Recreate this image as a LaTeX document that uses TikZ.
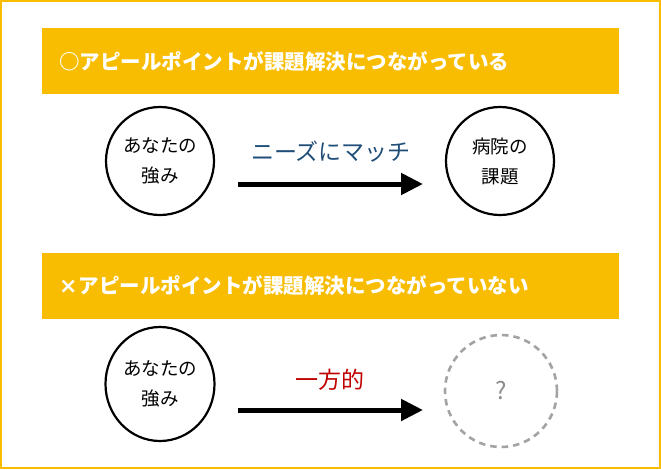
\documentclass[tikz,border=0pt]{standalone}
\usepackage{fontspec}
\newfontfamily\cjk{Noto Sans CJK JP}
\newfontfamily\latsans{DejaVu Sans}
\usetikzlibrary{arrows.meta,shapes.geometric}
\definecolor{ban}{RGB}{248,189,0}
\definecolor{needblue}{RGB}{31,78,121}
\definecolor{onered}{RGB}{192,0,0}
\definecolor{qgray}{RGB}{140,140,140}
\tikzset{
  banner/.style={fill=ban, draw=none},
  bantext/.style={anchor=west, text=white, font=\cjk\bfseries\fontsize{20.5}{24}\selectfont, inner sep=0},
  bubble/.style={circle, draw=black, line width=2.2pt, minimum size=108pt, inner sep=0, align=center, font=\cjk\fontsize{18.5}{30}\selectfont},
  qbubble/.style={circle, draw=qgray!80, dashed, dash pattern=on 6.5pt off 5pt, line width=2.6pt, minimum size=112pt, inner sep=0, text=qgray, font=\cjk\fontsize{24}{28}\selectfont},
  bigarrow/.style={line width=5pt, -{Triangle[length=22pt,width=21pt]}},
  arrlabel/.style={font=\cjk\fontsize{23}{26}\selectfont, inner sep=0}
}
\begin{document}
\begin{tikzpicture}[x=1pt,y=-1pt]
\useasboundingbox (0,0) rectangle (661,469);
\fill[white] (0,0) rectangle (661,469);
\draw[ban, line width=2pt] (1,1) rectangle (660,468);
% banner 1
\fill[banner] (42,28) rectangle (619,94);
\node[bantext] (t1) at (59,62) {○アピールポイントが課題解決につながっている};
% row 1
\node[bubble] (a1) at (160,161) {あなたの\\強み};
\node[bubble] (b1) at (500,161) {病院の\\課題};
\coordinate (s1) at (238,184);
\coordinate (e1) at (423,184);
\draw[bigarrow] (s1) -- (e1);
\node[arrlabel, text=needblue] (l1) at (331,152) {ニーズにマッチ};
% banner 2
\fill[banner] (42,253) rectangle (619,319);
\node[bantext] (t2) at (59,286) {{\latsans\bfseries\fontsize{22}{24}\selectfont ×}\hspace{1pt}アピールポイントが課題解決につながっていない};
% row 2
\node[bubble, ellipse, minimum width=109pt, minimum height=114pt] (a2) at (160,384) {あなたの\\強み};
\node[qbubble] (b2) at (501,391) {?};
\coordinate (s2) at (238,410);
\coordinate (e2) at (423,410);
\draw[bigarrow] (s2) -- (e2);
\node[arrlabel, text=onered] (l2) at (330,380) {一方的};
\end{tikzpicture}
\end{document}
